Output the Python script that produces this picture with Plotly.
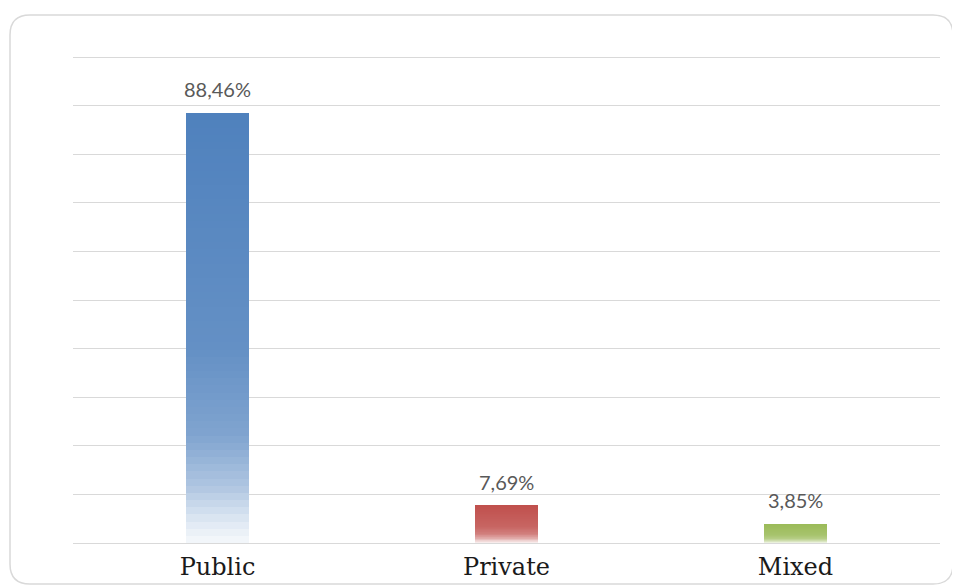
import plotly.graph_objects as go

categories = ["Public", "Private", "Mixed"]
values = [88.46, 7.69, 3.85]
base_colors = [(79, 129, 189), (192, 80, 77), (155, 187, 89)]

# page has an 8px body margin, so the figure is sized to fill the rest of the window
W, H = 952, 580
ML, MR, MT, MB = 65, 20, 48, 45
OFF = 8
N = 60  # gradient segments per bar


def mix(c1, c2, f):
    return tuple(c1[i] + (c2[i] - c1[i]) * f for i in range(3))


def grad_color(base, t):
    # t: 0 at top of bar, 1 at bottom
    white = (255, 255, 255)
    stops = [(0.0, 0.0), (0.55, 0.12), (0.75, 0.28), (0.87, 0.55), (0.95, 0.82), (1.0, 0.95)]
    for (t0, w0), (t1, w1) in zip(stops[:-1], stops[1:]):
        if t0 <= t <= t1:
            w = w0 + (w1 - w0) * (t - t0) / (t1 - t0)
            break
    c = mix(base, white, w)
    return "rgb(%d,%d,%d)" % tuple(round(x) for x in c)


fig = go.Figure()
for k in range(N):
    # k=0 is bottom segment
    t = 1 - (k + 0.5) / N
    fig.add_trace(go.Bar(
        x=categories,
        y=[v / N for v in values],
        width=0.22,
        marker=dict(color=[grad_color(b, t) for b in base_colors], line=dict(width=0)),
        hoverinfo="skip",
        showlegend=False,
    ))

for c, v in zip(categories, values):
    fig.add_annotation(
        x=c, y=v, xref="x", yref="y",
        text=f"{v:.2f}".replace(".", ",") + "%",
        showarrow=False, yanchor="bottom", yshift=10,
        font=dict(family="Lato, Open Sans, sans-serif", size=20, color="#595959"),
    )

# rounded outer border (reference pixel coords, shifted by page margin)
pw = W - ML - MR
ph = H - MT - MB
def px(x):
    return (x - OFF - ML) / pw
def py(y):
    return 1 - (y - OFF - MT) / ph
x0, x1, y0, y1, r = 10, 953, 15, 584, 20
path = (f"M {px(x0 + r)},{py(y0)} L {px(x1 - r)},{py(y0)} "
        f"Q {px(x1)},{py(y0)} {px(x1)},{py(y0 + r)} "
        f"L {px(x1)},{py(y1 - r)} Q {px(x1)},{py(y1)} {px(x1 - r)},{py(y1)} "
        f"L {px(x0 + r)},{py(y1)} Q {px(x0)},{py(y1)} {px(x0)},{py(y1 - r)} "
        f"L {px(x0)},{py(y0 + r)} Q {px(x0)},{py(y0)} {px(x0 + r)},{py(y0)} Z")
fig.add_shape(type="path", path=path, xref="paper", yref="paper",
              line=dict(color="#D9D9D9", width=1.5), layer="below")

fig.update_layout(
    width=W, height=H,
    margin=dict(l=ML, r=MR, t=MT, b=MB, autoexpand=False),
    barmode="stack",
    bargap=0,
    plot_bgcolor="white",
    paper_bgcolor="white",
    xaxis=dict(
        showgrid=False, showline=True, linecolor="#D9D9D9", linewidth=1,
        ticks="", tickfont=dict(family="DejaVu Serif, serif", size=24, color="#1a1a1a"),
        ticklabelstandoff=2, automargin=False,
    ),
    yaxis=dict(
        range=[0, 100.25], tickvals=list(range(10, 101, 10)), showticklabels=False, showgrid=True,
        gridcolor="#D9D9D9", gridwidth=1, zeroline=False, showline=False,
        fixedrange=True, automargin=False,
    ),
)

fig.write_html("out.html")
